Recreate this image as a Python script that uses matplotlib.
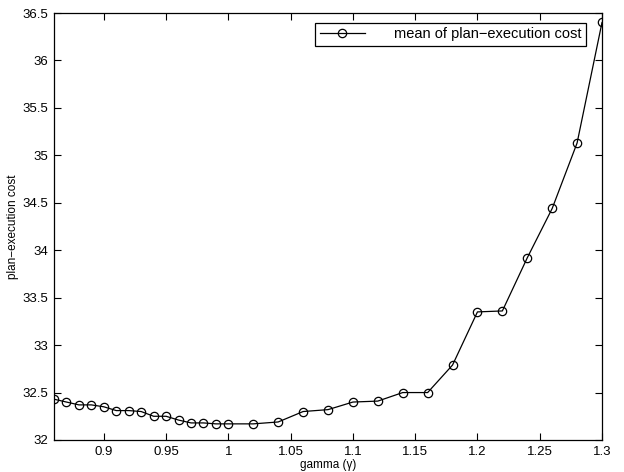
import matplotlib
matplotlib.use("Agg")
import matplotlib.pyplot as plt

gamma = [0.86, 0.87, 0.88, 0.89, 0.90, 0.91, 0.92, 0.93, 0.94, 0.95, 0.96, 0.97, 0.98, 0.99, 1.00,
         1.02, 1.04, 1.06, 1.08, 1.10, 1.12, 1.14, 1.16, 1.18, 1.20, 1.22, 1.24, 1.26, 1.28, 1.30]
cost = [32.43, 32.40, 32.37, 32.37, 32.35, 32.31, 32.31, 32.30, 32.25, 32.25, 32.21, 32.18, 32.18, 32.17, 32.17,
        32.17, 32.19, 32.30, 32.32, 32.40, 32.41, 32.50, 32.50, 32.79, 33.35, 33.36, 33.92, 34.44, 35.13, 36.40]
xticks = [0.9, 0.95, 1.0, 1.05, 1.1, 1.15, 1.2, 1.25, 1.3]
xticklabels = ["0.9", "0.95", "1", "1.05", "1.1", "1.15", "1.2", "1.25", "1.3"]
yticks = [32, 32.5, 33, 33.5, 34, 34.5, 35, 35.5, 36, 36.5]
yticklabels = ["32", "32.5", "33", "33.5", "34", "34.5", "35", "35.5", "36", "36.5"]

plt.rcParams['font.family'] = ['Liberation Sans', 'DejaVu Sans']
fig = plt.figure(figsize=(6.24, 4.72), dpi=100)
ax = fig.add_axes([54/624, 32/472, (602-54)/624, (440-13)/472])

ax.plot(gamma, cost, color='black', linewidth=0.9, marker='o', markersize=6,
        markerfacecolor='none', markeredgecolor='black', markeredgewidth=0.9,
        label='mean of plan\u2212execution cost')

ax.set_xlim(0.86, 1.3)
ax.set_ylim(32, 36.5)
ax.set_xticks(xticks)
ax.set_xticklabels(xticklabels)
ax.set_yticks(yticks)
ax.set_yticklabels(yticklabels)
ax.tick_params(direction='in', top=True, right=True, labelsize=9.5, length=5, width=0.8, pad=4)
for s in ax.spines.values():
    s.set_linewidth(0.9)

ax.set_xlabel('gamma (\u03b3)', fontsize=8.5, labelpad=1)
ax.set_ylabel('plan\u2212execution cost', fontsize=8.5, labelpad=3)

leg = ax.legend(loc='upper right', fontsize=10.5, fancybox=False, edgecolor='black',
                handlelength=3.1, handletextpad=2.0, borderpad=0.3, borderaxespad=0,
                bbox_to_anchor=(0.9708, 0.9766), framealpha=1)
leg.get_frame().set_linewidth(0.9)

fig.savefig('out.png', dpi=100)
